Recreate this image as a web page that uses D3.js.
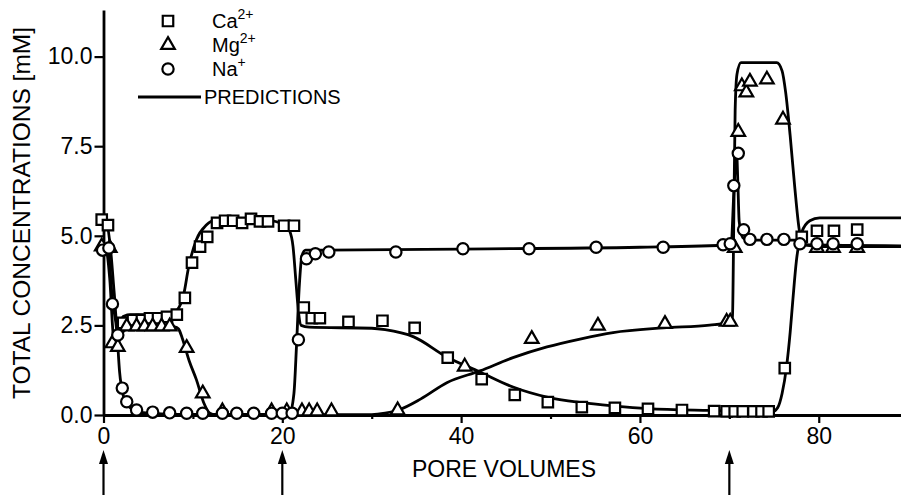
<!DOCTYPE html>
<html>
<head>
<meta charset="utf-8">
<script src="https://cdn.jsdelivr.net/npm/d3@7"></script>
<style>
  body { margin: 0; background: #fff; }
  svg { display: block; font-family: "Liberation Sans", Arial, Helvetica, sans-serif; }
</style>
</head>
<body>
<div class="chart"></div>
<script>
// observed concentrations [pore volume, mM]
const caObs = [[-0.2,5.45],[0.5,5.3],[2.2,2.57],[3.3,2.65],[4.3,2.65],[5.2,2.7],[6.1,2.7],[7.1,2.74],[8.2,2.8],[9.1,3.27],[9.9,4.25],[10.8,4.7],[11.6,4.97],[12.7,5.36],[13.6,5.42],[14.5,5.42],[15.5,5.36],[16.5,5.47],[17.5,5.4],[18.4,5.4],[20.2,5.28],[21.3,5.28],[22.4,3.0],[23.3,2.7],[24.2,2.7],[27.4,2.6],[31.2,2.63],[34.8,2.43],[38.5,1.6],[42.3,1.0],[46.0,0.56],[49.7,0.36],[53.5,0.22],[57.2,0.2],[60.9,0.17],[64.7,0.14],[68.3,0.11],[69.7,0.1],[70.6,0.1],[71.5,0.1],[72.7,0.1],[73.6,0.1],[74.4,0.1],[76.2,1.31],[78.1,4.97],[79.8,5.14],[81.7,5.14],[84.3,5.17]];
const mgObs = [[-0.2,4.7],[0.7,4.66],[1.0,2.0],[1.6,1.9],[2.6,2.47],[3.7,2.47],[4.6,2.47],[5.5,2.47],[6.5,2.47],[7.4,2.47],[9.3,1.87],[11.1,0.6],[13.3,0.1],[18.8,0.1],[20.5,0.1],[22.2,0.1],[23.0,0.1],[23.9,0.1],[25.5,0.1],[32.9,0.13],[40.4,1.35],[47.9,2.12],[55.3,2.49],[62.8,2.54],[69.7,2.6],[70.1,2.6],[70.6,4.66],[71.0,7.9],[71.4,9.17],[71.9,9.0],[72.3,9.3],[74.2,9.36],[76.0,8.24],[79.8,4.66],[81.6,4.66],[84.3,4.66]];
const naObs = [[-0.1,4.6],[0.6,4.66],[1.0,3.1],[1.6,2.23],[2.1,0.75],[2.6,0.37],[3.7,0.14],[5.5,0.08],[7.4,0.06],[9.3,0.05],[11.1,0.05],[13.3,0.05],[14.9,0.05],[16.8,0.05],[18.8,0.05],[20.0,0.05],[21.1,0.05],[21.8,2.1],[22.7,4.36],[23.7,4.5],[25.2,4.55],[32.7,4.55],[40.2,4.64],[47.6,4.64],[55.1,4.68],[62.6,4.68],[69.3,4.75],[70.1,4.78],[70.5,6.4],[71.0,7.3],[71.6,5.17],[72.3,4.9],[74.2,4.9],[76.1,4.9],[77.9,4.78],[79.8,4.78],[81.6,4.78],[84.3,4.78]];

// model predictions
const caPred = [[-0.3,5.45],[0.3,5.4],[0.8,4.6],[1.2,3.4],[1.5,2.55],[1.8,2.5],[2.2,2.75],[3,2.8],[5,2.8],[7.5,2.82],[8.3,2.95],[9,3.4],[9.5,4.1],[10.4,4.9],[11.5,5.3],[12.7,5.45],[15,5.48],[18,5.45],[20.3,5.3],[20.8,5.15],[21.2,4.7],[21.5,3.8],[21.8,2.9],[22.1,2.5],[23,2.45],[30,2.42],[31.5,2.38],[34.7,2.18],[38.4,1.62],[42.1,1.2],[45.8,0.78],[49.6,0.5],[53.3,0.35],[57.2,0.25],[60.9,0.18],[67.8,0.13],[74.9,0.1],[75.4,0.2],[75.9,0.6],[76.4,1.35],[76.8,2.3],[77.1,3.2],[77.5,4.3],[78.1,5.1],[79,5.42],[80.1,5.5],[89.2,5.5]];
const mgPred = [[-0.3,4.6],[0.3,4.55],[0.7,3.8],[1.1,2.2],[1.4,1.9],[1.8,2.1],[2.3,2.35],[3,2.42],[5,2.46],[8,2.46],[8.4,2.4],[8.8,2.15],[9.6,1.5],[10.4,0.98],[11.2,0.35],[11.9,0.05],[12.5,0.01],[30,0.01],[31.5,0.05],[33,0.14],[35.5,0.45],[38.4,0.9],[42.1,1.23],[45.8,1.6],[49.6,1.9],[53.3,2.12],[57,2.3],[62.6,2.43],[67.8,2.51],[69.9,2.58],[70.35,2.75],[70.5,5.5],[70.65,8.5],[70.85,9.5],[71.3,9.83],[75.3,9.83],[75.9,9.6],[76.3,9.0],[76.8,7.8],[77.3,6.4],[77.8,5.2],[78.3,4.75],[80,4.7],[89.2,4.7]];
const naPred = [[-0.3,4.6],[0.5,4.6],[1.0,3.2],[1.5,2.3],[1.8,1.2],[2.2,0.55],[2.8,0.25],[3.6,0.12],[5,0.05],[8,0.02],[20.8,0.02],[21.3,0.6],[21.6,2.0],[21.9,3.6],[22.2,4.45],[22.6,4.6],[25,4.6],[40,4.63],[60,4.68],[70.2,4.75],[70.5,6.2],[70.8,7.4],[70.95,6.5],[71.1,5.4],[71.5,4.95],[72,4.88],[77.5,4.88],[78.2,4.75],[89.2,4.72]];

const xTicks = [0, 20, 40, 60, 80];
const xMinor = [10, 30, 50, 70];
const yTicks = [0, 2.5, 5, 7.5, 10];
const arrowsAt = [0, 20, 70];

const width = 901;
const height = 495;

const svg = d3.select('.chart')
    .append('svg')
        .attr('width', width)
        .attr('height', height);

const x = d3.scaleLinear().domain([0, 89.2]).range([103.5, 901]);
const y = d3.scaleLinear().domain([0, 11.3]).range([415, 10]);

const font = '"Liberation Sans", Arial, Helvetica, sans-serif';

// axes
svg.append('g')
    .attr('transform', `translate(0, ${y(0)})`)
    .call(d3.axisBottom(x).tickValues(xTicks).tickSize(8).tickSizeOuter(0).tickPadding(5));
const xMinorAxis = svg.append('g')
    .attr('transform', `translate(0, ${y(0)})`)
    .call(d3.axisBottom(x).tickValues(xMinor).tickSize(4).tickFormat(''));
xMinorAxis.select('.domain').remove();

svg.append('g')
    .attr('transform', `translate(${x(0)}, 0)`)
    .call(d3.axisLeft(y).tickValues(yTicks).tickFormat(d3.format('.1f')).tickSize(9).tickSizeOuter(0).tickPadding(2));

svg.selectAll('.domain').attr('stroke', '#000').attr('stroke-width', 2.8);
svg.selectAll('.tick line').attr('stroke', '#000').attr('stroke-width', 2.2);
svg.selectAll('.tick text')
    .attr('fill', '#000')
    .style('font-family', font)
    .style('font-size', '23px');

// axis titles
svg.append('text')
    .attr('x', 504)
    .attr('y', 477)
    .attr('text-anchor', 'middle')
    .style('font-family', font)
    .style('font-size', '23px')
    .text('PORE VOLUMES');

svg.append('text')
    .attr('transform', 'translate(30, 213) rotate(-90)')
    .attr('text-anchor', 'middle')
    .style('font-family', font)
    .style('font-size', '24.5px')
    .text('TOTAL CONCENTRATIONS [mM]');

// arrows marking solution changes
arrowsAt.forEach(v => {
    const ax = x(v);
    svg.append('line')
        .attr('x1', ax).attr('x2', ax)
        .attr('y1', 462).attr('y2', 495)
        .attr('stroke', '#000').attr('stroke-width', 2.2);
    svg.append('path')
        .attr('d', `M${ax},450 L${ax - 4.5},464 L${ax + 4.5},464 Z`)
        .attr('fill', '#000');
});

// prediction lines
const line = d3.line()
    .x(d => x(d[0]))
    .y(d => y(d[1]))
    .curve(d3.curveMonotoneX);

[caPred, mgPred, naPred].forEach(p => {
    svg.append('path')
        .datum(p)
        .attr('d', line)
        .attr('fill', 'none')
        .attr('stroke', '#000')
        .attr('stroke-width', 2.8)
        .attr('stroke-linejoin', 'round');
});

// markers
const sym = {
    square: d3.symbol().type(d3.symbolSquare).size(110),
    triangle: d3.symbol().type(d3.symbolTriangle).size(80),
    circle: d3.symbol().type(d3.symbolCircle).size(100)
};

function drawObs(data, s) {
    svg.append('g')
        .selectAll('path')
        .data(data)
        .enter()
        .append('path')
        .attr('d', sym[s])
        .attr('transform', d => `translate(${x(d[0])}, ${y(d[1])})`)
        .attr('fill', '#fff')
        .attr('stroke', '#000')
        .attr('stroke-width', 2.2);
}
drawObs(caObs, 'square');
drawObs(mgObs, 'triangle');
drawObs(naObs, 'circle');

// legend
const legend = svg.append('g').style('font-family', font).style('font-size', '20px');
const rows = [
    {s: 'square', base: 'Ca', sup: '2+', y: 21},
    {s: 'triangle', base: 'Mg', sup: '2+', y: 45},
    {s: 'circle', base: 'Na', sup: '+', y: 69}
];
rows.forEach(r => {
    legend.append('path')
        .attr('d', sym[r.s])
        .attr('transform', `translate(168, ${r.y})`)
        .attr('fill', '#fff')
        .attr('stroke', '#000')
        .attr('stroke-width', 2.2);
    const t = legend.append('text')
        .attr('x', 212)
        .attr('y', r.y + 7);
    t.append('tspan').text(r.base);
    t.append('tspan').attr('dy', -9).style('font-size', '14px').text(r.sup);
});
legend.append('line')
    .attr('x1', 138).attr('x2', 201)
    .attr('y1', 97).attr('y2', 97)
    .attr('stroke', '#000').attr('stroke-width', 2.8);
legend.append('text')
    .attr('x', 204)
    .attr('y', 104)
    .text('PREDICTIONS');
</script>
</body>
</html>
